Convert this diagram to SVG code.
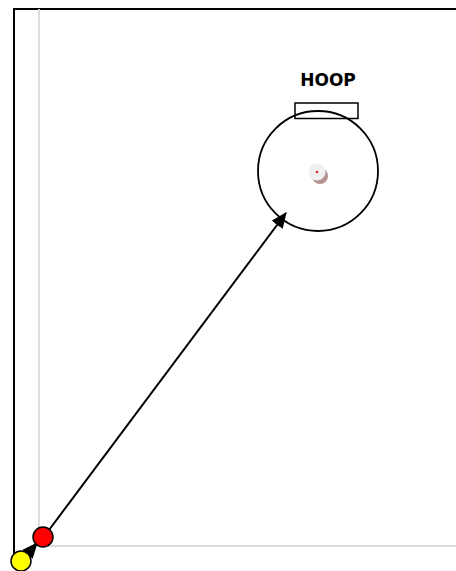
<svg xmlns="http://www.w3.org/2000/svg" width="456" height="571" viewBox="0 0 456 571">
<defs>
<style>
.court{fill:none;stroke:#000;stroke-width:2}
.guide{fill:none;stroke:#dcdcdc;stroke-width:2}
.conn{stroke:#000;stroke-width:2;fill:none}
.player{stroke:#000;stroke-width:1.5}
.lbl{font-family:"DejaVu Sans",Verdana,sans-serif;font-weight:bold;font-size:17px;fill:#000}
</style>
<marker id="ah" viewBox="0 0 14 12" refX="13" refY="6" markerWidth="8" markerHeight="7" orient="auto" markerUnits="strokeWidth">
<path d="M0,0 L14,6 L0,12 z" fill="#000"/>
</marker>
</defs>
<rect width="456" height="571" fill="#fff"/>
<g id="court">
<path class="court" d="M14,560 L14,9 L456,9"/>
<path class="guide" d="M39,9 L39,546 L456,546"/>
</g>
<g id="hoop">
<text class="lbl" x="328" y="86" text-anchor="middle">HOOP</text>
<rect x="295" y="103" width="63" height="15.5" fill="none" stroke="#000" stroke-width="1.5"/>
<circle cx="318" cy="171" r="60" fill="none" stroke="#000" stroke-width="1.8"/>
<circle cx="320" cy="176" r="8" fill="#a88080" opacity="0.85"/>
<circle cx="317" cy="172" r="8.5" fill="#f0f0f0"/>
<circle cx="317" cy="172" r="1.3" fill="#e03030"/>
</g>
<g id="connectors">
<line class="conn" x1="26" y1="556" x2="37" y2="543" marker-end="url(#ah)"/>
<line class="conn" x1="49" y1="530" x2="286" y2="213" marker-end="url(#ah)"/>
</g>
<g id="player-red">
<circle class="player" cx="43" cy="537" r="10" fill="#f00"/>
</g>
<g id="player-yellow">
<circle class="player" cx="21" cy="561" r="10" fill="#ff0"/>
</g>
</svg>
